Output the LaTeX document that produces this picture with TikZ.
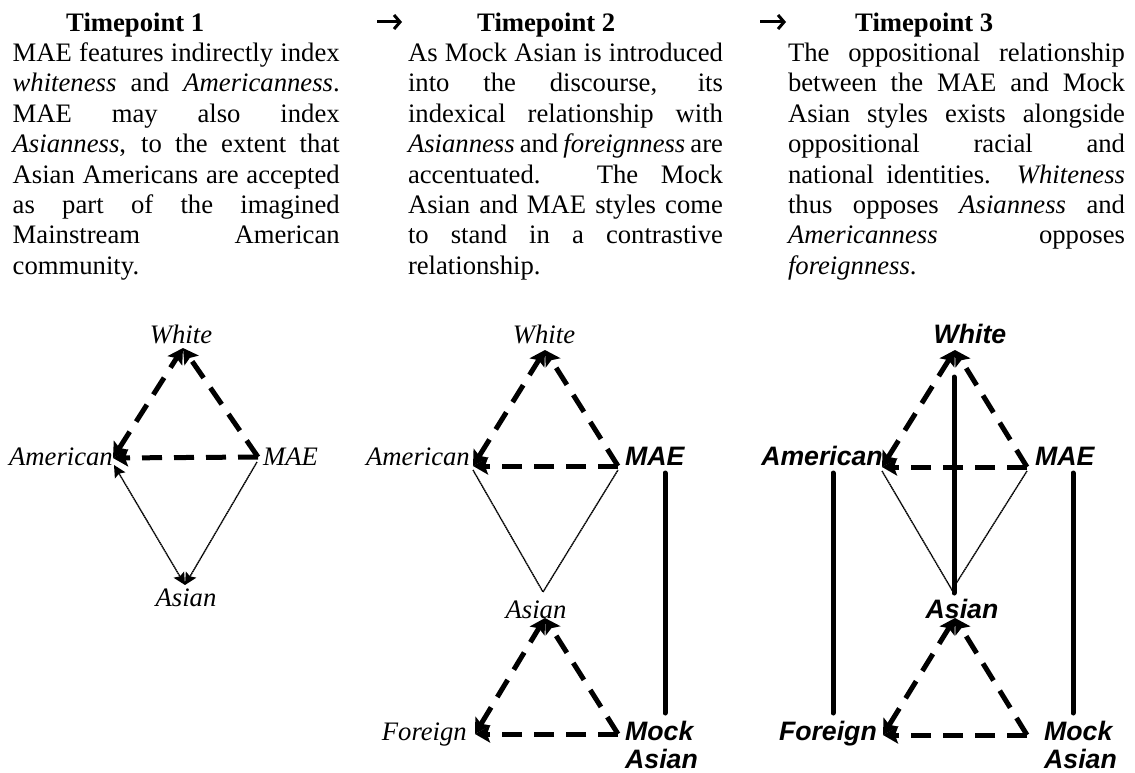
\documentclass[tikz,border=0pt]{standalone}
\usepackage{fontspec}
\setmainfont{Liberation Serif}
\newfontfamily\arialfont{Liberation Sans}
\usetikzlibrary{arrows.meta}
\newcommand\jl[1]{\makebox[\linewidth][s]{#1}}
\begin{document}
\begin{tikzpicture}[x=1pt,y=-1pt,
  bodytext/.style={anchor=base west,inner sep=0pt,outer sep=0pt,font=\fontsize{26.67}{30.4}\selectfont},
  headtext/.style={anchor=base west,inner sep=0pt,font=\fontsize{26.67}{30.4}\selectfont\bfseries},
  serlab/.style={inner sep=0pt,font=\fontsize{26.67}{28}\selectfont\itshape},
  sanslab/.style={inner sep=0pt,font=\fontsize{26.67}{28}\selectfont\arialfont\bfseries\itshape},
  thickdash/.style={line width=5pt,dash pattern=on 20pt off 12pt},
  thinline/.style={line width=1.4pt,dash pattern=on 1.6pt off 0.5pt},
  solidbar/.style={line width=5pt,line cap=round},
  bigtip/.tip={Stealth[length=15pt,width=17pt,inset=3pt]},
  smalltip/.tip={Stealth[length=12pt,width=12pt,inset=2pt]},
  headarrow/.style={line width=3pt,-{Straight Barb[length=6pt,width=14pt]}}
]
\useasboundingbox (0,0) rectangle (1135,773);

% ---------- headings ----------
\node[headtext] (h1) at (66,32) {Timepoint 1};
\node[headtext] (h2) at (477,32) {Timepoint 2};
\node[headtext] (h3) at (855,32) {Timepoint 3};
\coordinate (ar1s) at (377,22); \coordinate (ar1e) at (402,22);
\coordinate (ar2s) at (760,22); \coordinate (ar2e) at (786,22);
\draw[headarrow] (ar1s) -- (ar1e);
\draw[headarrow] (ar2s) -- (ar2e);

% ---------- body texts ----------
\node[bodytext] (t1) at (12.7,61.5) {\parbox[t]{327pt}{%
\jl{MAE features indirectly index}\\
\jl{\textit{whiteness} and \textit{Americanness}.}\\
\jl{MAE may also index}\\
\jl{\textit{Asianness}, to the extent that}\\
\jl{Asian Americans are accepted}\\
\jl{as part of the imagined}\\
\jl{Mainstream American}\\
community.}};
\node[bodytext] (t2) at (408,61.5) {\parbox[t]{315pt}{%
\jl{As Mock Asian is introduced}\\
\jl{into the discourse, its}\\
\jl{indexical relationship with}\\
\jl{\textit{Asianness} and \textit{foreignness} are}\\
\jl{accentuated. The Mock}\\
\jl{Asian and MAE styles come}\\
\jl{to stand in a contrastive}\\
relationship.}};
\node[bodytext] (t3) at (788,61.5) {\parbox[t]{337pt}{%
\jl{The oppositional relationship}\\
\jl{between the MAE and Mock}\\
\jl{Asian styles exists alongside}\\
\jl{oppositional racial and}\\
\jl{national identities. \textit{Whiteness}}\\
\jl{thus opposes \textit{Asianness} and}\\
\jl{\textit{Americanness} opposes}\\
\textit{foreignness}.}};

% ---------- Timepoint 1 diagram ----------
\node[serlab,anchor=base] (w1) at (181,343) {White};
\node[serlab,anchor=base east] (am1) at (113,465) {American};
\node[serlab,anchor=base west] (mae1) at (263,465) {MAE};
\node[serlab,anchor=base] (as1) at (186,606) {Asian};
\coordinate (W1) at (183,348);
\coordinate (A1) at (113,458);
\coordinate (M1) at (258,457);
\coordinate (A1b) at (114,465);
\coordinate (M1b) at (257,462);
\coordinate (S1) at (185,585);
\draw[thickdash,{bigtip}-{bigtip}] (A1) -- (W1);
\draw[thickdash,-{bigtip}] (M1) -- (W1);
\draw[thickdash,-{bigtip}] (M1) -- (A1);
\draw[thinline,{smalltip}-{smalltip}] (A1b) -- (S1);
\draw[thinline,-{smalltip}] (M1b) -- (S1);

% ---------- Timepoint 2 diagram ----------
\node[serlab,anchor=base] (w2) at (544,343) {White};
\node[serlab,anchor=base east] (am2) at (470,465) {American};
\node[sanslab,anchor=base west] (mae2) at (625,465) {MAE};
\node[serlab,anchor=base] (as2) at (536,618) {Asian};
\node[serlab,anchor=base east] (fo2) at (467,740) {Foreign};
\node[sanslab,anchor=base west] (mk2) at (625,740) {\parbox[t]{90pt}{\raggedright Mock\\Asian}};
\coordinate (W2) at (545,350);
\coordinate (A2) at (473,466);
\coordinate (M2) at (618,466);
\coordinate (A2b) at (473,470);
\coordinate (M2b) at (618,470);
\coordinate (V2) at (543,592);
\coordinate (S2) at (545,618);
\coordinate (F2) at (475,734);
\coordinate (K2) at (618,734);
\coordinate (v2t) at (665,473);
\coordinate (v2b) at (665,713);
\draw[thickdash,{bigtip}-{bigtip}] (A2) -- (W2);
\draw[thickdash,-{bigtip}] (M2) -- (W2);
\draw[thickdash,-{bigtip}] (M2) -- (A2);
\draw[thinline] (A2b) -- (V2) -- (M2b);
\draw[thickdash,{bigtip}-{bigtip}] (F2) -- (S2);
\draw[thickdash,-{bigtip}] (K2) -- (S2);
\draw[thickdash,-{bigtip}] (K2) -- (F2);
\draw[solidbar] (v2t) -- (v2b);

% ---------- Timepoint 3 diagram ----------
\node[sanslab,anchor=base] (w3) at (970,343) {White};
\node[sanslab,anchor=base east] (am3) at (883,465) {American};
\node[sanslab,anchor=base west] (mae3) at (1035,465) {MAE};
\node[sanslab,anchor=base] (as3) at (962,618) {Asian};
\node[sanslab,anchor=base east] (fo3) at (877,740) {Foreign};
\node[sanslab,anchor=base west] (mk3) at (1044,740) {\parbox[t]{90pt}{\raggedright Mock\\Asian}};
\coordinate (W3) at (955,350);
\coordinate (A3) at (882,467);
\coordinate (M3) at (1027,467);
\coordinate (A3b) at (882,471);
\coordinate (M3b) at (1027,471);
\coordinate (V3) at (952,590);
\coordinate (S3) at (955,618);
\coordinate (F3) at (883,735);
\coordinate (K3) at (1027,735);
\coordinate (vct) at (954,377);
\coordinate (vcb) at (954,593);
\coordinate (vlt) at (833,473);
\coordinate (vlb) at (833,713);
\coordinate (vrt) at (1073,473);
\coordinate (vrb) at (1073,713);
\draw[thickdash,{bigtip}-{bigtip}] (A3) -- (W3);
\draw[thickdash,-{bigtip}] (M3) -- (W3);
\draw[thickdash,-{bigtip}] (M3) -- (A3);
\draw[thinline] (A3b) -- (V3) -- (M3b);
\draw[thickdash,{bigtip}-{bigtip}] (F3) -- (S3);
\draw[thickdash,-{bigtip}] (K3) -- (S3);
\draw[thickdash,-{bigtip}] (K3) -- (F3);
\draw[solidbar] (vct) -- (vcb);
\draw[solidbar] (vlt) -- (vlb);
\draw[solidbar] (vrt) -- (vrb);
\end{tikzpicture}
\end{document}
